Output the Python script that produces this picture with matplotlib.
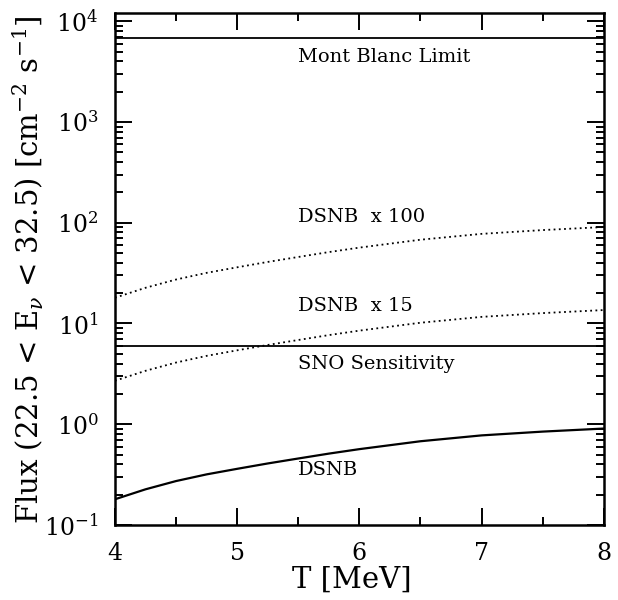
import matplotlib
matplotlib.use("Agg")
import matplotlib.pyplot as plt
from matplotlib.ticker import LogLocator, MultipleLocator, NullFormatter

plt.rcParams["font.family"] = "DejaVu Serif"
plt.rcParams["mathtext.fontset"] = "dejavuserif"

# DSNB flux vs threshold T
T = [4.0, 4.25, 4.5, 4.75, 5.0, 5.25, 5.5, 5.75, 6.0, 6.5, 7.0, 7.5, 8.0]
dsnb = [0.18, 0.226, 0.273, 0.318, 0.361, 0.408, 0.457, 0.511, 0.566,
        0.678, 0.775, 0.845, 0.906]
scale_15 = 15
scale_100 = 100
mont_blanc = 6850
sno = 5.96

fig = plt.figure(figsize=(6.18, 6.0), dpi=100)
ax = fig.add_axes([0.186, 0.125, 0.791, 0.853])

ax.axhline(mont_blanc, color="black", lw=1.3)
ax.axhline(sno, color="black", lw=1.3)
ax.plot(T, dsnb, color="black", lw=1.6)
ax.plot(T, [v * scale_15 for v in dsnb], color="black", lw=1.3, ls=(0, (1, 1.9)))
ax.plot(T, [v * scale_100 for v in dsnb], color="black", lw=1.3, ls=(0, (1, 1.9)))

ax.set_yscale("log")
ax.set_xlim(4, 8)
ax.set_ylim(0.1, 1.2e4)

txt = dict(fontsize=14, va="center", ha="left")
ax.text(5.5, 4400, "Mont Blanc Limit", **txt)
ax.text(5.5, 115, "DSNB  x 100", **txt)
ax.text(5.5, 15, "DSNB  x 15", **txt)
ax.text(5.5, 4.0, "SNO Sensitivity", **txt)
ax.text(5.5, 0.35, "DSNB", **txt)

ax.xaxis.set_major_locator(MultipleLocator(1))
ax.xaxis.set_minor_locator(MultipleLocator(0.5))
ax.yaxis.set_major_locator(LogLocator(base=10, numticks=10))
ax.yaxis.set_minor_locator(LogLocator(base=10, subs=range(2, 10), numticks=10))
ax.yaxis.set_minor_formatter(NullFormatter())

ax.tick_params(which="both", direction="in", top=True, right=True, width=1.4)
ax.tick_params(which="major", length=12, labelsize=17, pad=12)
ax.tick_params(which="minor", length=6)
for spine in ax.spines.values():
    spine.set_linewidth(1.8)

ax.set_xlabel("T [MeV]", fontsize=21)
ax.xaxis.set_label_coords(0.485, -0.107)
ax.xaxis.label.set_va("center")
ax.set_ylabel(r"Flux (22.5 < E$_\nu$ < 32.5) [cm$^{-2}$ s$^{-1}$]", fontsize=21)
ax.yaxis.set_label_coords(-0.178, 0.5)
ax.yaxis.label.set_va("center")

fig.savefig("out.png", dpi=100)
